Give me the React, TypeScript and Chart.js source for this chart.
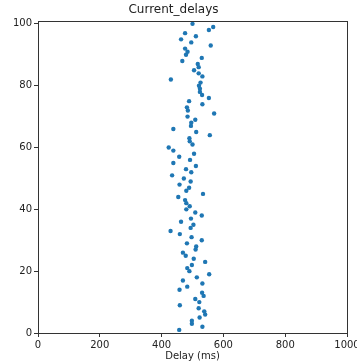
import React, { useEffect, useRef } from "react";
import { Chart, registerables } from "chart.js";

Chart.register(...registerables);

const TITLE = "Current_delays";
const X_LABEL = "Delay (ms)";
const X_TICKS = [0, 200, 400, 600, 800, 1000];
const Y_TICKS = [0, 20, 40, 60, 80, 100];

const SAMPLE_INDEX = [
  1, 2, 3, 4, 5, 6, 7, 8, 9, 10, 11, 12, 13, 14, 15, 16, 17, 18, 19, 20,
  21, 22, 23, 24, 25, 26, 27, 28, 29, 30, 31, 32, 33, 34, 35, 36, 37, 38, 39, 40,
  41, 42, 43, 44, 45, 46, 47, 48, 49, 50, 51, 52, 53, 54, 55, 56, 57, 58, 59, 60,
  61, 62, 63, 64, 65, 66, 67, 68, 69, 70, 71, 72, 73, 74, 75, 76, 77, 78, 79, 80,
  81, 82, 83, 84, 85, 86, 87, 88, 89, 90, 91, 92, 93, 94, 95, 96, 97, 98, 99, 100,
];

const DELAYS = [
  457, 532, 498, 498, 523, 541, 538, 520, 459, 522, 509, 536, 531, 458, 483, 532, 469, 514, 554, 490,
  483, 498, 541, 504, 478, 469, 510, 512, 482, 530, 497, 459, 429, 494, 503, 463, 495, 530, 509, 480,
  491, 480, 476, 454, 534, 480, 489, 458, 494, 472, 434, 496, 479, 511, 438, 492, 457, 505, 438, 423,
  500, 491, 490, 556, 512, 438, 495, 496, 509, 484, 570, 485, 482, 532, 489, 553, 531, 524, 524, 521,
  526, 430, 532, 520, 505, 520, 517, 467, 530, 479, 484, 476, 559, 496, 463, 511, 476, 553, 567, 500,
];

const FONT = "'DejaVu Sans', sans-serif";
const TEXT = "#222";
const AXIS = "#333";

const frame = {
  id: "frame",
  afterDatasetsDraw(chart: any) {
    const { ctx, chartArea } = chart;
    ctx.save();
    ctx.strokeStyle = AXIS;
    ctx.lineWidth = 1;
    ctx.strokeRect(
      Math.round(chartArea.left) + 0.5,
      Math.round(chartArea.top) + 0.5,
      Math.round(chartArea.right - chartArea.left),
      Math.round(chartArea.bottom - chartArea.top)
    );
    ctx.restore();
  },
};

export default function App() {
  const ref = useRef<HTMLCanvasElement>(null);
  useEffect(() => {
    if (!ref.current) return;
    const chart = new Chart(ref.current, {
      type: "scatter",
      data: {
        datasets: [
          {
            data: SAMPLE_INDEX.map((y, i) => ({ x: DELAYS[i], y })),
            backgroundColor: "#1f77b4",
            borderWidth: 0,
            pointRadius: 2.2,
          },
        ],
      },
      options: {
        responsive: false,
        animation: false,
        layout: { padding: { left: 0, right: 10, top: 0, bottom: 0 } },
        plugins: {
          legend: { display: false },
          tooltip: { enabled: false },
          title: {
            display: true,
            text: TITLE,
            color: TEXT,
            font: { family: FONT, size: 12, weight: "normal" },
            padding: { top: 3, bottom: 4 },
          },
        },
        scales: {
          x: {
            type: "linear",
            min: 0,
            max: 1000,
            afterBuildTicks: (s: any) => {
              s.ticks = X_TICKS.map((v) => ({ value: v }));
            },
            afterFit: (s: any) => {
              s.height = 31;
              s.paddingLeft = 0;
              s.paddingRight = 0;
            },
            grid: {
              display: true,
              drawOnChartArea: false,
              drawTicks: true,
              tickLength: 4,
              tickColor: AXIS,
            },
            border: { display: true, color: AXIS },
            ticks: {
              color: TEXT,
              font: { family: FONT, size: 10 },
              padding: 2,
              maxRotation: 0,
              callback: (v: any) => String(v),
            },
            title: {
              display: true,
              text: X_LABEL,
              color: TEXT,
              font: { family: FONT, size: 10 },
              padding: { top: 0, bottom: 2 },
            },
          },
          y: {
            type: "linear",
            min: 0,
            max: 100.8,
            afterBuildTicks: (s: any) => {
              s.ticks = Y_TICKS.map((v) => ({ value: v }));
            },
            afterFit: (s: any) => {
              s.width = 38;
              s.paddingTop = 0;
              s.paddingBottom = 0;
            },
            grid: {
              display: true,
              drawOnChartArea: false,
              drawTicks: true,
              tickLength: 4,
              tickColor: AXIS,
            },
            border: { display: true, color: AXIS },
            ticks: {
              color: TEXT,
              font: { family: FONT, size: 10 },
              padding: 2,
              callback: (v: any) => String(v),
            },
          },
        },
      },
      plugins: [frame],
    });
    return () => chart.destroy();
  }, []);
  return (
    <div style={{ position: "fixed", left: 0, top: 0, width: 357, height: 364, background: "#fff" }}>
      <canvas ref={ref} width={357} height={364} style={{ display: "block" }} />
    </div>
  );
}
